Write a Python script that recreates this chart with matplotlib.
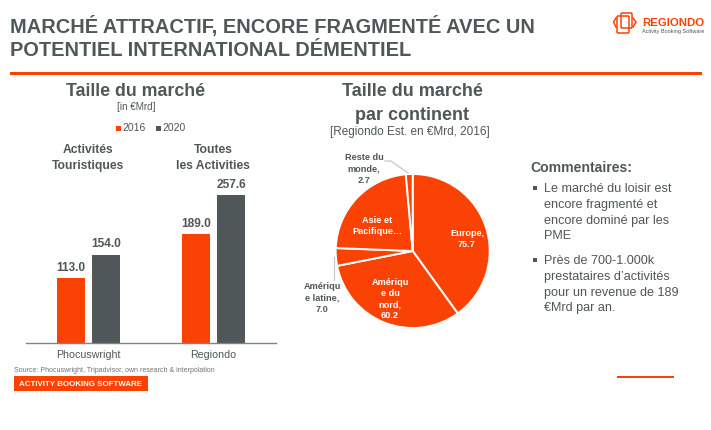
import matplotlib
matplotlib.use("Agg")
import matplotlib.pyplot as plt
from matplotlib.patches import Rectangle, FancyBboxPatch
from matplotlib.lines import Line2D

plt.rcParams['font.family'] = ['Liberation Sans', 'DejaVu Sans']

ORANGE = '#fa4205'
GREY = '#4f5759'
W, H = 711, 430

groups = ['Phocuswright', 'Regiondo']
group_titles = ['Activités\nTouristiques', 'Toutes\nles Activities']
values_2016 = [113.0, 189.0]
values_2020 = [154.0, 257.6]
series_names = ['2016', '2020']
pie_labels = ['Europe,\n75.7', 'Amériqu\ne du\nnord,\n60.2', 'Amériqu\ne latine,\n7.0', 'Asie et\nPacifique…', 'Reste du\nmonde,\n2.7']
pie_values = [75.7, 60.2, 7.0, 43.4, 2.7]
comments = ['Le marché du loisir est\nencore fragmenté et\nencore dominé par les\nPME',
            'Près de 700-1.000k\nprestataires d’activités\npour un revenue de 189\n€Mrd par an.']

fig = plt.figure(figsize=(W / 100, H / 100), dpi=100, facecolor='white')
bg = fig.add_axes([0, 0, 1, 1], zorder=5)
bg.set_xlim(0, W)
bg.set_ylim(H, 0)
bg.axis('off')


def T(x, y, s, size, color=GREY, weight='normal', ha='center', va='center', ls=1.2):
    return bg.text(x, y, s, fontsize=size, color=color, fontweight=weight, ha=ha, va=va, linespacing=ls)


# Header
T(10, 27, 'MARCHÉ ATTRACTIF, ENCORE FRAGMENTÉ AVEC UN', 14.4, weight='bold', ha='left')
T(10, 50, 'POTENTIEL INTERNATIONAL DÉMENTIEL', 14.4, weight='bold', ha='left')
bg.add_patch(Rectangle((10, 71.5), 692, 3, color=ORANGE, lw=0))

# Logo
bg.add_patch(FancyBboxPatch((618, 17), 10, 15, boxstyle='round,pad=1', fc='none', ec=ORANGE, lw=1.1))
bg.add_patch(FancyBboxPatch((622, 14), 9, 13, boxstyle='round,pad=1', fc='none', ec=ORANGE, lw=1.1))
bg.add_line(Line2D([616, 613.5, 616], [18, 22, 27], color=ORANGE, lw=1.1))
bg.add_line(Line2D([633, 636, 633], [18, 22, 27], color=ORANGE, lw=1.1))
T(642, 23, 'REGIONDO', 8.2, color=ORANGE, weight='bold', ha='left')
T(642, 32, 'Activity Booking Software', 4.0, ha='left')

# Bar panel headings
T(136, 92, 'Taille du marché', 12.8, weight='bold')
T(136, 107, '[in €Mrd]', 7.1)
bg.add_patch(Rectangle((116, 125.5), 5, 5, color=ORANGE, lw=0))
T(122, 128, series_names[0], 7.5, ha='left')
bg.add_patch(Rectangle((156, 125.5), 5, 5, color=GREY, lw=0))
T(162, 128, series_names[1], 7.5, ha='left')
T(88, 158, group_titles[0], 8.7, weight='bold', ls=1.4)
T(213, 158, group_titles[1], 8.7, weight='bold', ls=1.4)

# Bars
ax = fig.add_axes([26 / W, 1 - 343 / H, 250 / W, 172 / H])
ax.set_xlim(-0.5, 1.5)
ax.set_ylim(0, 172 / 0.5745)
x = [0, 1]
bw = 27.5 / 125
off = 17.5 / 125
b1 = ax.bar([i - off for i in x], values_2016, bw, color=ORANGE)
b2 = ax.bar([i + off for i in x], values_2020, bw, color=GREY)
for bars, vals in ((b1, values_2016), (b2, values_2020)):
    for r, v in zip(bars, vals):
        ax.annotate(f'{v:.1f}', (r.get_x() + r.get_width() / 2, v), xytext=(0, 3), textcoords='offset points',
                    ha='center', va='bottom', fontsize=8.6, fontweight='bold', color=GREY)
for s in ('top', 'left', 'right'):
    ax.spines[s].set_visible(False)
ax.spines['bottom'].set_color('#7f8587')
ax.spines['bottom'].set_linewidth(1.0)
ax.set_yticks([])
ax.set_xticks(x)
ax.set_xticklabels(groups, fontsize=7.7, color=GREY)
ax.tick_params(axis='x', length=0, pad=5)
ax.patch.set_alpha(0)

# Pie headings
T(412, 91, 'Taille du marché', 13, weight='bold')
T(412, 115, 'par continent', 13, weight='bold')
T(410, 132, '[Regiondo Est. en €Mrd, 2016]', 8.5)

# Pie
R = 77
cx, cy = 412.7, 251
pa = fig.add_axes([(cx - R) / W, 1 - (cy + R) / H, 2 * R / W, 2 * R / H])
wedges, _ = pa.pie(pie_values, startangle=90, counterclock=False, colors=[ORANGE] * 5, radius=1,
                   wedgeprops=dict(edgecolor='white', linewidth=1.4))
pa.set_xlim(-1, 1)
pa.set_ylim(-1, 1)
for w in wedges:
    w.set_clip_on(False)

T(467, 239, pie_labels[0], 6.6, color='white', weight='bold', ls=1.3)
T(390, 299, pie_labels[1], 6.6, color='white', weight='bold', ls=1.3)
T(377, 226, pie_labels[3], 6.6, color='white', weight='bold', ls=1.3)
T(364, 169, pie_labels[4], 6.6, weight='bold', ls=1.3)
T(322, 298, pie_labels[2], 6.6, weight='bold', ls=1.3)
bg.add_line(Line2D([385, 391, 408], [161, 161, 173], color='#c8c8c8', lw=0.9))
bg.add_line(Line2D([334, 334], [257, 280], color='#c8c8c8', lw=0.9))

# Comments
T(530, 168, 'Commentaires:', 10.1, weight='bold', ha='left')
for y, s in zip([188, 260], comments):
    bg.add_patch(Rectangle((532.5, y - 2), 4, 4, color=GREY, lw=0))
    bg.text(544, y - 5, s, fontsize=9.1, color=GREY, ha='left', va='top', linespacing=1.42)

# Footer
T(14, 370, 'Source: Phocuswright, Tripadvisor, own research & interpolation', 5.0, ha='left', color='#6d7476')
bg.add_patch(Rectangle((13.5, 376), 134, 15, color=ORANGE, lw=0))
T(19, 384, 'ACTIVITY BOOKING SOFTWARE', 5.7, color='white', weight='bold', ha='left')
bg.add_patch(Rectangle((617, 375.5), 57, 2.5, color=ORANGE, lw=0))

fig.savefig('out.png', dpi=100, facecolor='white')
